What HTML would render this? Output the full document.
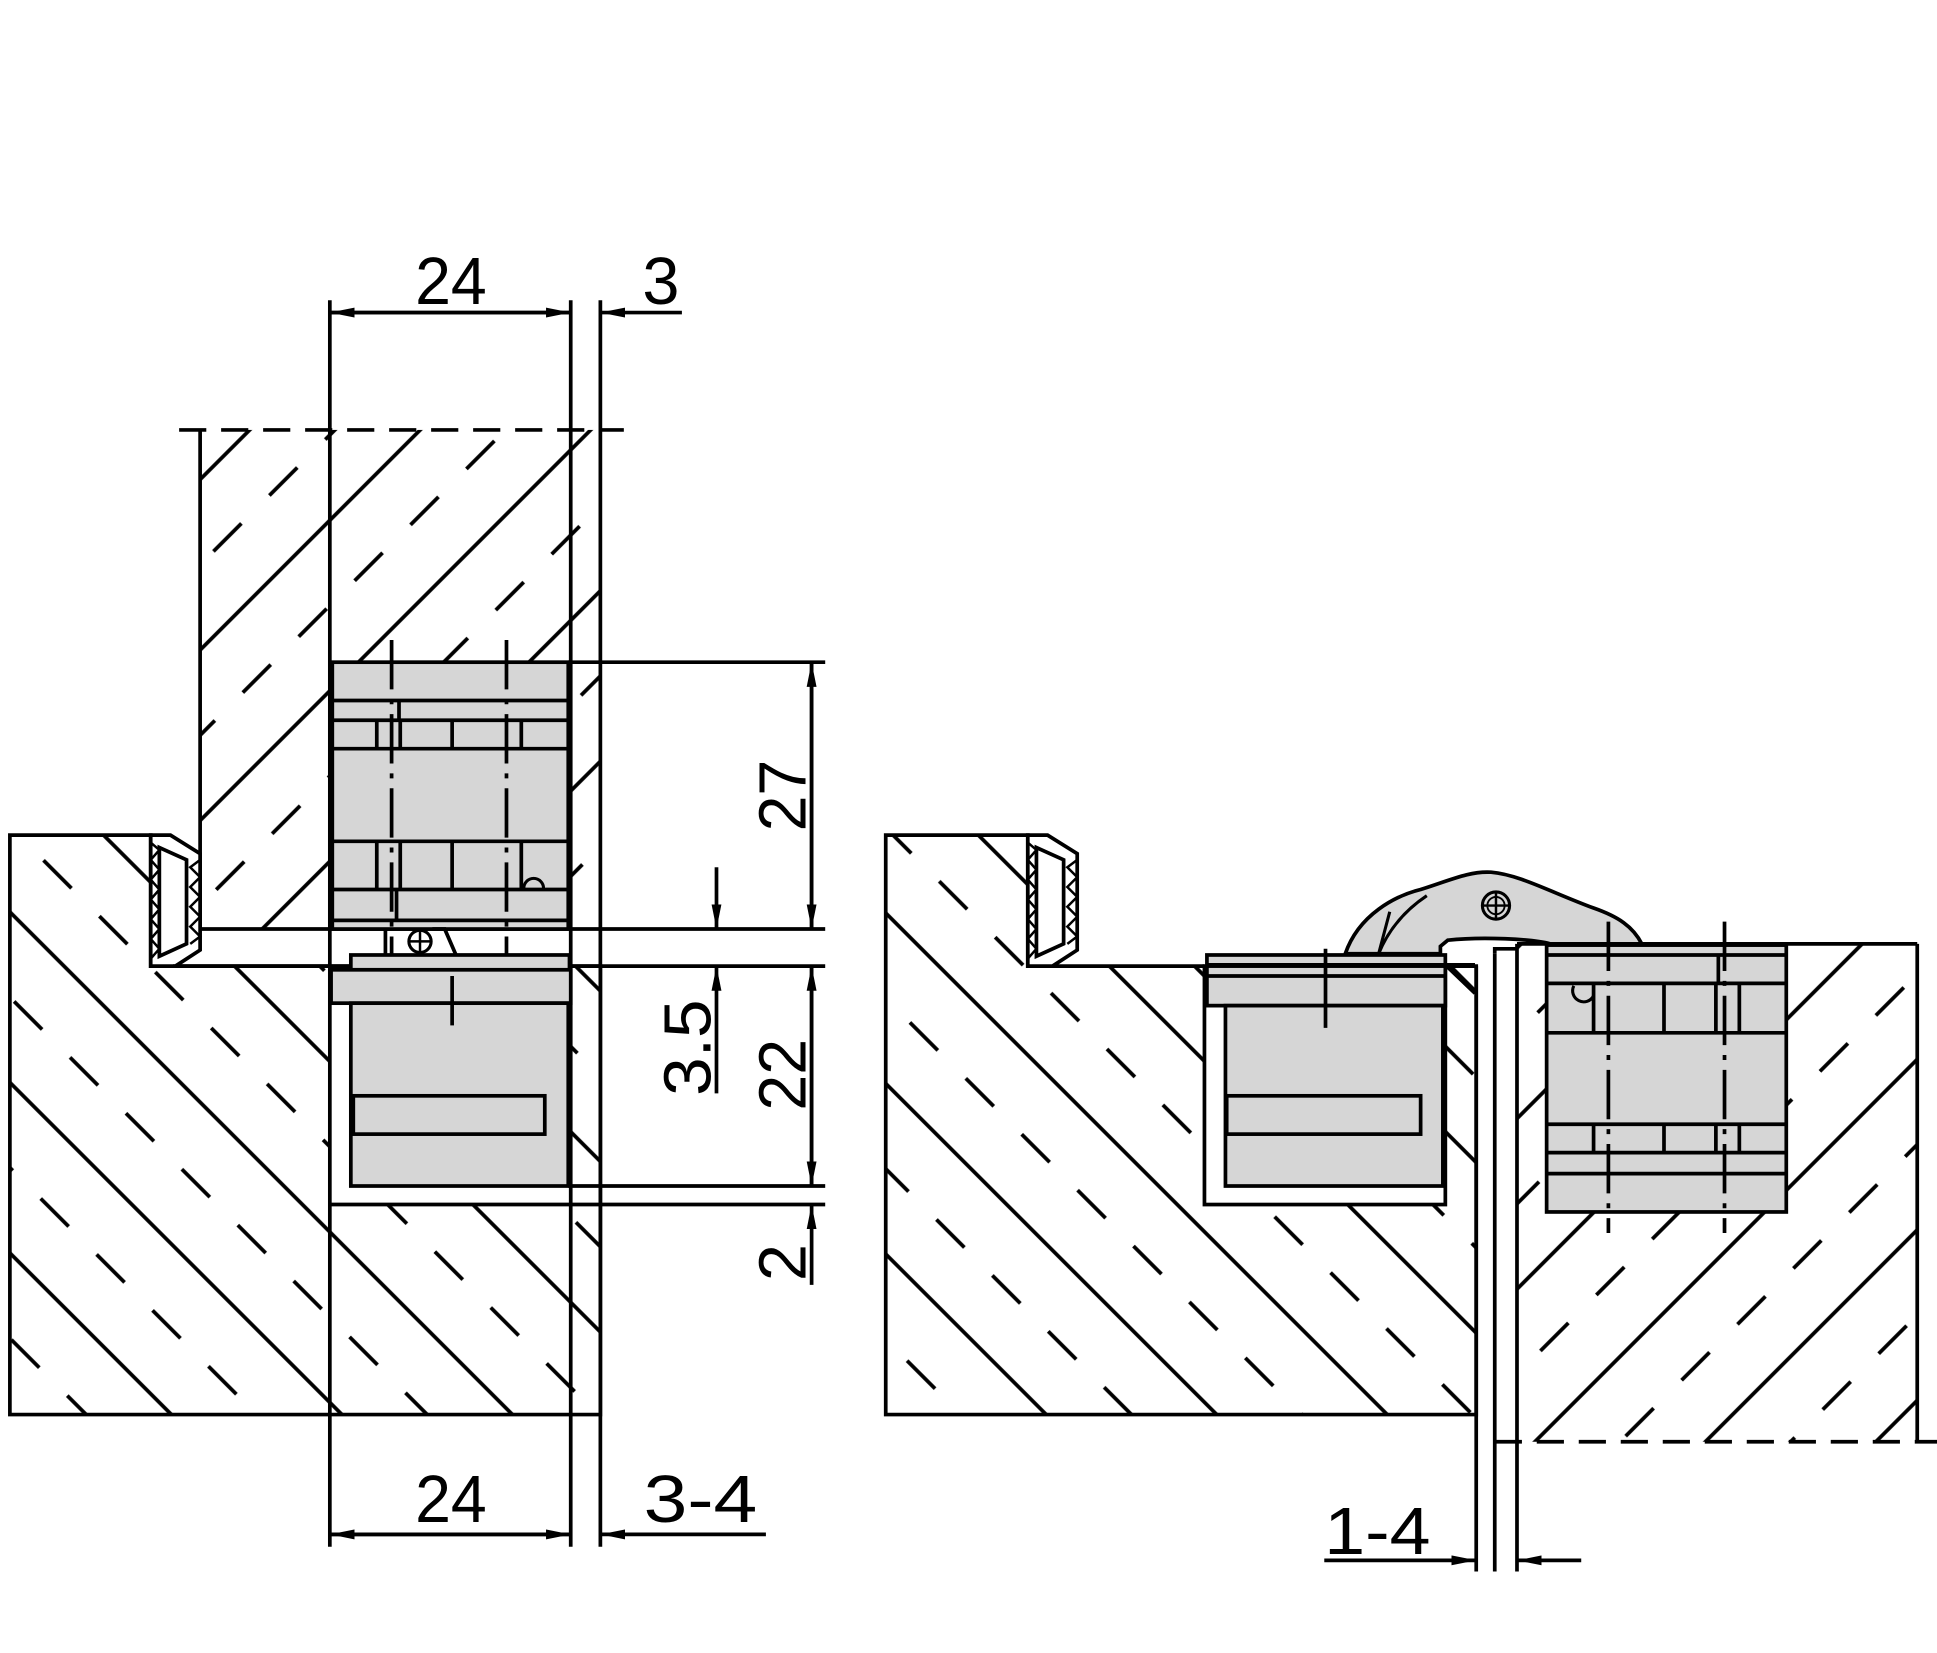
<!DOCTYPE html>
<html><head><meta charset="utf-8"><style>html,body{margin:0;padding:0;background:#fff}svg{display:block}</style></head>
<body>
<svg width="1937" height="1653" viewBox="0 0 1568 1338" preserveAspectRatio="none" xmlns="http://www.w3.org/2000/svg">
<defs>
<pattern id="hb1" width="128" height="97.6" patternUnits="userSpaceOnUse" patternTransform="translate(98,0) rotate(45)">
<line x1="-5" y1="0" x2="135" y2="0" stroke="#000" stroke-width="3"/>
<line x1="-5" y1="97.6" x2="135" y2="97.6" stroke="#000" stroke-width="3"/>
<line x1="0" y1="48.8" x2="128" y2="48.8" stroke="#000" stroke-width="3" stroke-dasharray="32 32"/>
</pattern>
<pattern id="hb2" width="128" height="97.6" patternUnits="userSpaceOnUse" patternTransform="translate(116,0) rotate(45)">
<line x1="-5" y1="0" x2="135" y2="0" stroke="#000" stroke-width="3"/>
<line x1="-5" y1="97.6" x2="135" y2="97.6" stroke="#000" stroke-width="3"/>
<line x1="0" y1="48.8" x2="128" y2="48.8" stroke="#000" stroke-width="3" stroke-dasharray="32 32"/>
</pattern>
<pattern id="hf1" width="128" height="97.6" patternUnits="userSpaceOnUse" patternTransform="translate(-2,0) rotate(-45)">
<line x1="-5" y1="0" x2="135" y2="0" stroke="#000" stroke-width="3"/>
<line x1="-5" y1="97.6" x2="135" y2="97.6" stroke="#000" stroke-width="3"/>
<line x1="0" y1="48.8" x2="128" y2="48.8" stroke="#000" stroke-width="3" stroke-dasharray="32 32"/>
</pattern>
<pattern id="hf2" width="128" height="97.6" patternUnits="userSpaceOnUse" patternTransform="translate(63,0) rotate(-45)">
<line x1="-5" y1="0" x2="135" y2="0" stroke="#000" stroke-width="3"/>
<line x1="-5" y1="97.6" x2="135" y2="97.6" stroke="#000" stroke-width="3"/>
<line x1="0" y1="48.8" x2="128" y2="48.8" stroke="#000" stroke-width="3" stroke-dasharray="32 32"/>
</pattern>
<marker id="a" viewBox="0 0 20 8" refX="20" refY="4" markerWidth="20" markerHeight="8" markerUnits="userSpaceOnUse" orient="auto"><path d="M0,0 L20,4 L0,8 z" fill="#000"/></marker>
</defs>
<g stroke="#000" stroke-width="3" fill="none" font-family="Liberation Sans, sans-serif">
<rect x="162" y="348" width="324" height="404" fill="url(#hf1)" stroke="none"/>
<line x1="145" y1="348" x2="505" y2="348" stroke-dasharray="22 12"/>
<line x1="162" y1="348" x2="162" y2="752"/>
<path d="M8,676 H122 V782 H486 V1145 H8 Z" fill="url(#hb1)"/>
<rect x="267" y="782" width="195" height="193" fill="#fff" stroke="none"/>
<path d="M122,676 H138 L162,691 V769 L142,782 H122 Z" fill="#fff"/>
<path d="M129,686 L151,696 V764 L129,774 Z" fill="#fff"/>
<polyline points="122,682 129,688 122,696 129,704 122,712 129,720 122,728 129,736 122,744 129,752 122,760 129,768 122,776" stroke-width="2"/>
<polyline points="162,696 154,702 162,710 154,718 162,726 154,734 162,742 154,750 162,758 154,764" stroke-width="2"/>
<line x1="162" y1="752" x2="668" y2="752"/>
<line x1="140" y1="782" x2="668" y2="782"/>
<line x1="267" y1="243" x2="267" y2="1252"/>
<line x1="462" y1="243" x2="462" y2="1252"/>
<line x1="486" y1="243" x2="486" y2="1252"/>
<rect x="269" y="536" width="191" height="216" fill="#d6d6d6"/>
<line x1="269" y1="567" x2="460" y2="567"/><line x1="269" y1="583" x2="460" y2="583"/>
<line x1="269" y1="606" x2="460" y2="606"/><line x1="269" y1="681" x2="460" y2="681"/>
<line x1="269" y1="720" x2="460" y2="720"/><line x1="269" y1="745" x2="460" y2="745"/>
<line x1="323" y1="567" x2="323" y2="583"/>
<line x1="305" y1="583" x2="305" y2="606"/><line x1="324" y1="583" x2="324" y2="606"/><line x1="366" y1="583" x2="366" y2="606"/><line x1="422" y1="583" x2="422" y2="606"/>
<line x1="305" y1="681" x2="305" y2="720"/><line x1="324" y1="681" x2="324" y2="720"/><line x1="366" y1="681" x2="366" y2="720"/><line x1="422" y1="681" x2="422" y2="720"/>
<line x1="321" y1="720" x2="321" y2="745"/>
<path d="M424,719 A8,8 0 1 1 440,719" stroke-width="2.5"/>
<line x1="317" y1="518" x2="317" y2="775" stroke-dasharray="40 8 4 8"/>
<line x1="410" y1="518" x2="410" y2="775" stroke-dasharray="40 8 4 8"/>
<path d="M312,775 V752 M350,752 L360,752 L370,775" />
<circle cx="340" cy="762" r="9" stroke-width="2.5"/><path d="M331,762 H349 M340,753 V771" stroke-width="2"/>
<rect x="284" y="773" width="177" height="12" fill="#d6d6d6"/>
<rect x="268" y="785" width="194" height="27" fill="#d6d6d6"/>
<rect x="284" y="812" width="176" height="148" fill="#d6d6d6"/>
<rect x="286" y="887" width="155" height="31" fill="#d6d6d6"/>
<line x1="366" y1="790" x2="366" y2="830"/>
<line x1="267" y1="975" x2="668" y2="975"/>
<line x1="460" y1="960" x2="668" y2="960"/>
<line x1="460" y1="536" x2="668" y2="536"/>
<line x1="462" y1="253" x2="267" y2="253" marker-end="url(#a)"/>
<line x1="267" y1="253" x2="462" y2="253" marker-end="url(#a)"/>
<line x1="552" y1="253" x2="486" y2="253" marker-end="url(#a)"/>
<line x1="267" y1="1242" x2="462" y2="1242" marker-end="url(#a)"/>
<line x1="462" y1="1242" x2="267" y2="1242" marker-end="url(#a)"/>
<line x1="620" y1="1242" x2="486" y2="1242" marker-end="url(#a)"/>
<line x1="657" y1="536" x2="657" y2="752" marker-end="url(#a)"/>
<line x1="657" y1="752" x2="657" y2="536" marker-end="url(#a)"/>
<line x1="657" y1="782" x2="657" y2="960" marker-end="url(#a)"/>
<line x1="657" y1="960" x2="657" y2="782" marker-end="url(#a)"/>
<line x1="657" y1="1040" x2="657" y2="975" marker-end="url(#a)"/>
<line x1="580" y1="702" x2="580" y2="752" marker-end="url(#a)"/>
<line x1="580" y1="885" x2="580" y2="782" marker-end="url(#a)"/>
<path d="M717,676 H832 V782 H1195 V1145 H717 Z" fill="url(#hb2)"/>
<rect x="975" y="775" width="195" height="200" fill="#fff" stroke="none"/>
<path d="M832,676 H848 L872,691 V769 L852,782 H832 Z" fill="#fff"/>
<path d="M839,686 L861,696 V764 L839,774 Z" fill="#fff"/>
<polyline points="832,682 839,688 832,696 839,704 832,712 839,720 832,728 839,736 832,744 839,752 832,760 839,768 832,776" stroke-width="2"/>
<polyline points="872,696 864,702 872,710 864,718 872,726 864,734 872,742 864,750 872,758 864,764" stroke-width="2"/>
<path d="M1228,764 H1552 V1167 H1228 Z" fill="url(#hf2)" stroke="none"/>
<line x1="1228" y1="764" x2="1552" y2="764"/>
<line x1="1552" y1="764" x2="1552" y2="1167"/>
<line x1="1210" y1="1167" x2="1568" y2="1167" stroke-dasharray="22 12"/>
<rect x="1252" y="764" width="195" height="216" fill="#fff" stroke="none"/>
<line x1="1228" y1="764" x2="1228" y2="1272"/>
<line x1="1195" y1="782" x2="1195" y2="1272"/>
<line x1="1210" y1="772" x2="1210" y2="1272"/>
<path d="M1089,772 C1100,740 1130,725 1150,720 C1175,712 1190,705 1207,706 C1230,708 1255,722 1290,735 C1310,742 1322,750 1329,764 L1255,764 C1240,760 1200,758 1172,761 L1166,766 V772 Z" fill="#d6d6d6"/>
<path d="M1116,772 L1125,738 M1116,772 C1125,750 1140,735 1155,725" stroke-width="2.5"/>
<circle cx="1211" cy="733" r="11" stroke-width="2.5"/><circle cx="1211" cy="733" r="7" stroke-width="1.5"/><path d="M1201,733 H1221 M1211,723 V743" stroke-width="2"/>
<rect x="977" y="773" width="193" height="41" fill="#d6d6d6"/>
<line x1="977" y1="781" x2="1170" y2="781"/><line x1="977" y1="790" x2="1170" y2="790"/>
<rect x="992" y="814" width="176" height="146" fill="#d6d6d6"/>
<rect x="993" y="887" width="157" height="31" fill="#d6d6d6"/>
<rect x="975" y="782" width="195" height="193"/>
<line x1="1073" y1="768" x2="1073" y2="832"/>
<path d="M1170,781 H1194 M1170,781 L1194,804"/>
<path d="M1210,772 V768 H1228"/>
<rect x="1252" y="765" width="194" height="216" fill="#d6d6d6"/>
<line x1="1252" y1="773" x2="1446" y2="773"/><line x1="1252" y1="796" x2="1446" y2="796"/>
<line x1="1252" y1="836" x2="1446" y2="836"/><line x1="1252" y1="910" x2="1446" y2="910"/>
<line x1="1252" y1="933" x2="1446" y2="933"/><line x1="1252" y1="950" x2="1446" y2="950"/>
<line x1="1391" y1="773" x2="1391" y2="796"/>
<line x1="1290" y1="796" x2="1290" y2="836"/><line x1="1347" y1="796" x2="1347" y2="836"/><line x1="1389" y1="796" x2="1389" y2="836"/><line x1="1408" y1="796" x2="1408" y2="836"/>
<line x1="1290" y1="910" x2="1290" y2="933"/><line x1="1347" y1="910" x2="1347" y2="933"/><line x1="1389" y1="910" x2="1389" y2="933"/><line x1="1408" y1="910" x2="1408" y2="933"/>
<path d="M1274,798 A8,8 0 0 0 1290,806" stroke-width="2.5"/>
<line x1="1302" y1="746" x2="1302" y2="998" stroke-dasharray="40 8 4 8"/>
<line x1="1396" y1="746" x2="1396" y2="998" stroke-dasharray="40 8 4 8"/>
<line x1="1072" y1="1263" x2="1195" y2="1263" marker-end="url(#a)"/>
<line x1="1280" y1="1263" x2="1228" y2="1263" marker-end="url(#a)"/>
</g>
<g font-family="Liberation Sans, sans-serif" font-size="54" fill="#000" text-anchor="middle">
<text x="365" y="246" textLength="58" lengthAdjust="spacingAndGlyphs">24</text>
<text x="535" y="246">3</text>
<text x="365" y="1232" textLength="58" lengthAdjust="spacingAndGlyphs">24</text>
<text x="567" y="1232" textLength="92" lengthAdjust="spacingAndGlyphs">3-4</text>
<text x="1115" y="1258" textLength="86" lengthAdjust="spacingAndGlyphs">1-4</text>
<text transform="translate(652,644) rotate(-90)" textLength="58" lengthAdjust="spacingAndGlyphs">27</text>
<text transform="translate(652,870) rotate(-90)" textLength="58" lengthAdjust="spacingAndGlyphs">22</text>
<text transform="translate(652,1022) rotate(-90)">2</text>
<text transform="translate(575,848) rotate(-90)" textLength="78" lengthAdjust="spacingAndGlyphs">3.5</text>
</g>
</svg>
</body></html>
